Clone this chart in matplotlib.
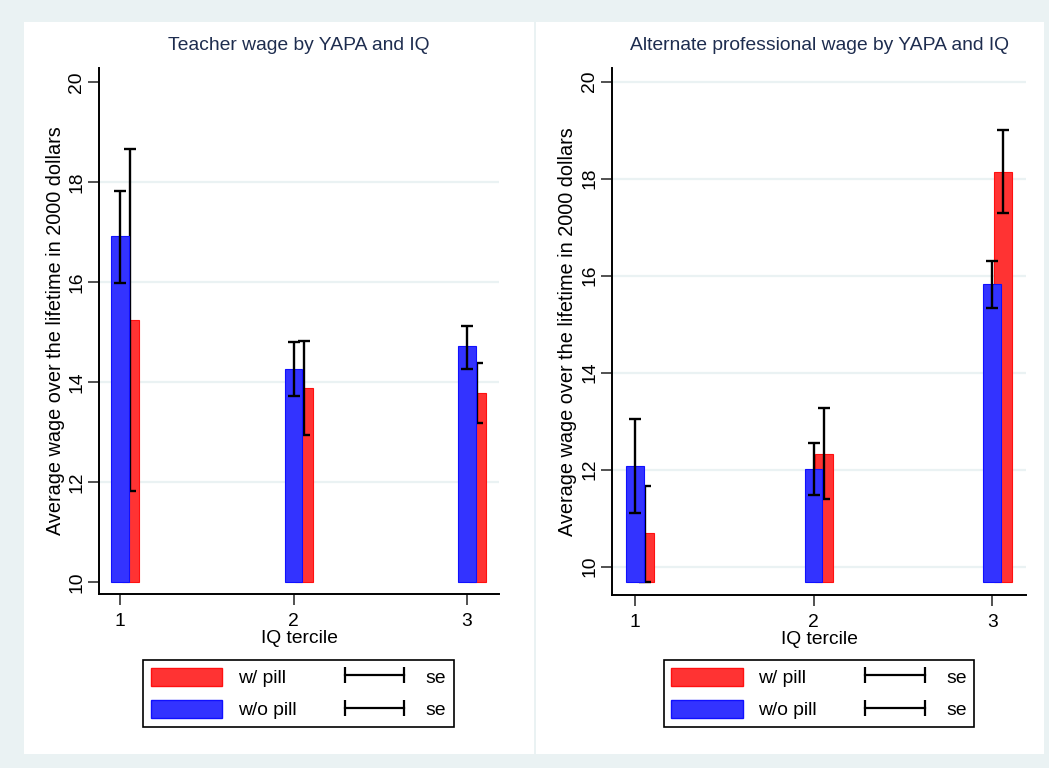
import matplotlib
matplotlib.use("Agg")
import matplotlib.pyplot as plt
import numpy as np
from matplotlib.patches import Patch, Rectangle
from matplotlib.lines import Line2D

plt.rcParams['font.family'] = ['Liberation Sans', 'DejaVu Sans']

# data
terciles = [1, 2, 3]
tick_labels = ["1", "2", "3"]

teacher_nopill = [16.92, 14.26, 14.71]
teacher_nopill_lo = [15.99, 13.72, 14.27]
teacher_nopill_hi = [17.82, 14.80, 15.13]
teacher_pill = [15.24, 13.88, 13.79]
teacher_pill_lo = [11.83, 12.94, 13.18]
teacher_pill_hi = [18.66, 14.83, 14.39]

alt_nopill = [12.08, 12.01, 15.82]
alt_nopill_lo = [11.10, 11.48, 15.34]
alt_nopill_hi = [13.05, 12.54, 16.30]
alt_pill = [10.69, 12.33, 18.14]
alt_pill_lo = [9.68, 11.40, 17.29]
alt_pill_hi = [11.66, 13.28, 19.00]

teacher_base = 10.0
alt_base = 9.68

BG = '#EAF2F3'
BLUE = '#3333FF'
RED = '#FF3333'
TITLE_C = '#1E2D4F'
FS = 13.9

W, H = 1049, 768
fig = plt.figure(figsize=(W / 100, H / 100), dpi=100, facecolor=BG)


def px(x0, y0, x1, y1):
    # image pixel box -> figure fraction rect
    return [x0 / W, (H - y1) / H, (x1 - x0) / W, (y1 - y0) / H]


# white panel regions
fig.add_artist(Rectangle((24 / W, (H - 754) / H), (534 - 24) / W, (754 - 22) / H,
                         transform=fig.transFigure, facecolor='white', edgecolor='none', zorder=0))
fig.add_artist(Rectangle((536 / W, (H - 754) / H), (1044 - 536) / W, (754 - 22) / H,
                         transform=fig.transFigure, facecolor='white', edgecolor='none', zorder=0))


def panel(rect, xlim, ylim, grid_vals, base, nop, nop_lo, nop_hi, p, p_lo, p_hi, title, leg_center):
    ax = fig.add_axes(rect)
    ax.set_facecolor('white')
    x = np.array(terciles, dtype=float)
    off = 0.06
    w = 0.1

    for g in grid_vals:
        ax.axhline(g, color=BG, lw=1.6, zorder=0)

    p = np.array(p)
    nop = np.array(nop)
    ax.bar(x + off, p - base, bottom=base, width=w, color=RED, edgecolor='#FF1010', lw=0.8, zorder=2)
    ax.errorbar(x + off, p, yerr=[p - np.array(p_lo), np.array(p_hi) - p], fmt='none',
                ecolor='black', elinewidth=1.7, capsize=4, capthick=1.7, zorder=3)
    ax.bar(x, nop - base, bottom=base, width=w, color=BLUE, edgecolor='#1010FF', lw=0.8, zorder=4)
    ax.errorbar(x, nop, yerr=[nop - np.array(nop_lo), np.array(nop_hi) - nop], fmt='none',
                ecolor='black', elinewidth=1.7, capsize=4, capthick=1.7, zorder=5)

    ax.set_xlim(*xlim)
    ax.set_ylim(*ylim)
    ax.set_xticks(terciles)
    ax.set_xticklabels(tick_labels)
    ax.set_yticks([10, 12, 14, 16, 18, 20])
    for lab in ax.get_yticklabels():
        lab.set_rotation(90)
        lab.set_va('center')
    ax.tick_params(axis='both', labelsize=FS, length=8, width=1.2, direction='out', color='#333333')
    ax.tick_params(axis='y', pad=2)
    ax.tick_params(axis='x', pad=6)
    for s in ['top', 'right']:
        ax.spines[s].set_visible(False)
    for s in ['left', 'bottom']:
        ax.spines[s].set_linewidth(1.4)
        ax.spines[s].set_color('black')

    ax.set_ylabel("Average wage over the lifetime in 2000 dollars", fontsize=FS + 0.4, va='center')
    ax.yaxis.set_label_coords(-0.108, 0.5)
    ax.set_xlabel("IQ tercile", fontsize=FS, va='center')
    ax.xaxis.set_label_coords(0.5, -0.084)
    ax.set_title(title, fontsize=FS, color=TITLE_C, y=1.027, va='center')

    handles = [Patch(facecolor=RED, edgecolor='#FF1010'),
               Patch(facecolor=BLUE, edgecolor='#1010FF'),
               Line2D([], [], color='black', lw=1.6, marker='|', markersize=11, markeredgewidth=1.6),
               Line2D([], [], color='black', lw=1.6, marker='|', markersize=11, markeredgewidth=1.6)]
    labels = ["w/ pill", "w/o pill", "se", "se"]
    cx, cy = leg_center
    leg = ax.legend(handles, labels, ncol=2, loc='center',
                    bbox_to_anchor=(cx / W, (H - cy) / H), bbox_transform=fig.transFigure,
                    fontsize=FS, numpoints=2, handlelength=3.7, handleheight=1.05,
                    handletextpad=0.8, columnspacing=2.2, labelspacing=0.65,
                    borderpad=0.4, fancybox=False, framealpha=1, edgecolor='black')
    leg.get_frame().set_linewidth(1.2)
    return ax


panel(px(99, 68, 499, 594), (0.879, 3.184), (9.76, 20.28), [12, 14, 16, 18], teacher_base,
      teacher_nopill, teacher_nopill_lo, teacher_nopill_hi,
      teacher_pill, teacher_pill_lo, teacher_pill_hi,
      "Teacher wage by YAPA and IQ", (298.5, 693.5))

panel(px(612, 68, 1026, 595), (0.873, 3.188), (9.416, 20.28), [10, 12, 14, 16, 18, 20], alt_base,
      alt_nopill, alt_nopill_lo, alt_nopill_hi,
      alt_pill, alt_pill_lo, alt_pill_hi,
      "Alternate professional wage by YAPA and IQ", (819, 693.5))

fig.savefig("out.png", dpi=100, facecolor=BG)
